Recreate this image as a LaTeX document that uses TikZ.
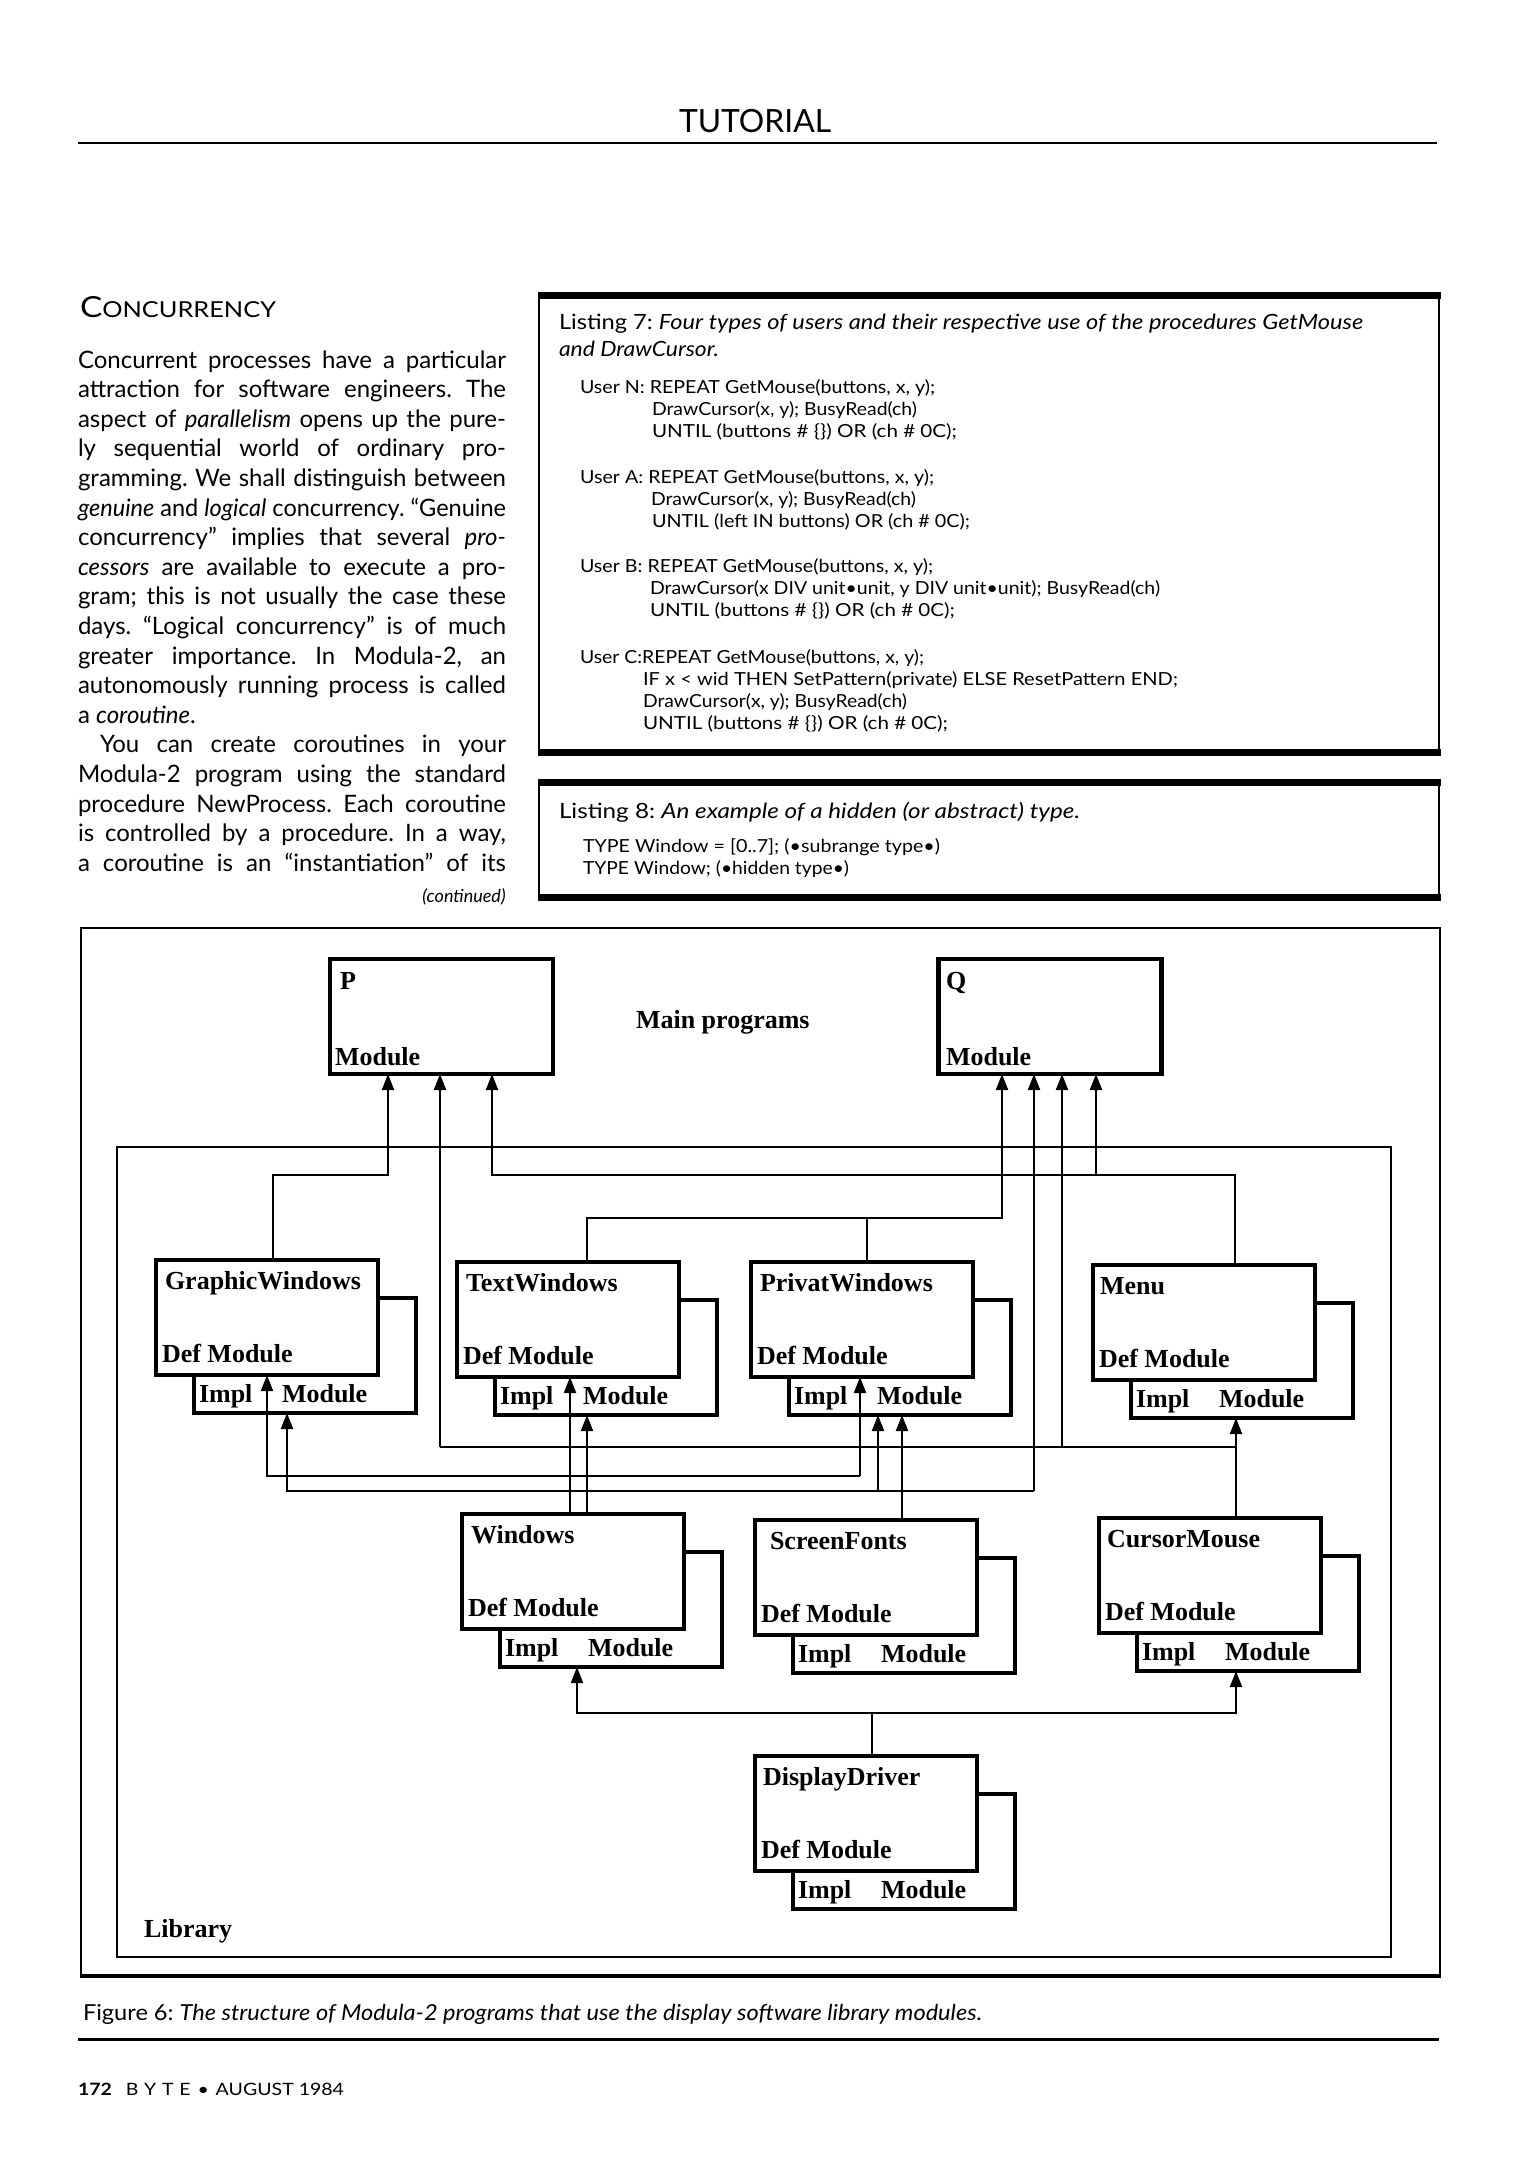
\documentclass[tikz,border=0pt]{standalone}
\usepackage{fontspec}
\usepackage{graphicx}
\setmainfont{Liberation Serif}
\newfontfamily\opt{Lato}
\usetikzlibrary{arrows.meta}
\frenchspacing
\newlength\jw
\newcommand\jline[2]{\settowidth\jw{#2}\ifdim\jw>#1\relax\resizebox{#1}{\height}{#2}\else\makebox[#1][s]{#2}\fi}
\newcommand\fitw[2]{\resizebox{#1}{\height}{#2}}
\tikzset{
  txt/.style={anchor=base west, inner sep=0pt, outer sep=0pt},
  body/.style={txt, font=\opt\frenchspacing\fontsize{12pt}{14pt}\selectfont},
  code/.style={txt, font=\opt\fontsize{9pt}{11pt}\selectfont},
  ltitle/.style={txt, font=\opt\fontsize{10.5pt}{12pt}\selectfont},
  lab/.style={txt, font=\bfseries\fontsize{13pt}{15pt}\selectfont},
  defbox/.style={draw, line width=2.2pt, fill=white, minimum width=111pt, minimum height=57.5pt, inner sep=0pt, outer sep=0pt},
  implbox/.style={draw, line width=2.2pt, fill=white, minimum width=111pt, minimum height=57.5pt, inner sep=0pt, outer sep=0pt},
  mainbox/.style={draw, line width=2.2pt, fill=white, minimum width=111.5pt, minimum height=57.5pt, inner sep=0pt, outer sep=0pt},
  conn/.style={line width=1pt},
  arr/.style={conn, -{Triangle[length=8pt,width=6pt]}},
  bar/.style={line width=3.5pt},
  side/.style={line width=0.7pt}
}
% name, x, y (top-left of Def box), title, title x offset
\newcommand\modbox[5]{%
  \node[implbox] (#1i) at (#2+149,#3+95.5) {};
  \node[defbox] (#1) at (#2+111,#3+57.5) {};
  \node[lab] (#1t) at (#2+#5,#3+29) {#4};
  \node[lab] (#1d) at (#2+6,#3+102) {Def Module};
  \node[lab] (#1l) at (#2+43,#3+142) {Impl};
  \node[lab] (#1m) at (#2+126,#3+142) {Module};
}
\newcommand\bl[3]{\node[body] (b#1) at (#2,{368+(#1-1)*29.6}) {#3};}
\begin{document}
\begin{tikzpicture}[x=0.5pt,y=-0.5pt]
\useasboundingbox (0,0) rectangle (1533,2160);
\fill[white] (0,0) rectangle (1533,2160);

% ---------- header ----------
\node[font=\opt\fontsize{16pt}{18pt}\selectfont, anchor=base, inner sep=0pt] (hdr) at (755,132) {\fitw{76pt}{TUTORIAL}};
\draw[line width=1.3pt] (78,143) -- (1437,143);

% ---------- body column ----------
\node[txt, font=\opt\fontsize{11pt}{13pt}\selectfont] (head) at (80,317) {\fitw{98pt}{{\fontsize{14.5pt}{16pt}\selectfont C}ONCURRENCY}};
\bl{1}{78}{\jline{214pt}{Concurrent processes have a particular}}
\bl{2}{78}{\jline{214pt}{attraction for software engineers. The}}
\bl{3}{78}{\jline{214pt}{aspect of \textit{parallelism} opens up the pure-}}
\bl{4}{78}{\jline{214pt}{ly sequential world of ordinary pro-}}
\bl{5}{78}{\jline{214pt}{gramming. We shall distinguish between}}
\bl{6}{78}{\jline{214pt}{\textit{genuine} and \textit{logical} concurrency. “Genuine}}
\bl{7}{78}{\jline{214pt}{concurrency” implies that several \textit{pro-}}}
\bl{8}{78}{\jline{214pt}{\textit{cessors} are available to execute a pro-}}
\bl{9}{78}{\jline{214pt}{gram; this is not usually the case these}}
\bl{10}{78}{\jline{214pt}{days. “Logical concurrency” is of much}}
\bl{11}{78}{\jline{214pt}{greater importance. In Modula-2, an}}
\bl{12}{78}{\jline{214pt}{autonomously running process is called}}
\bl{13}{78}{a \textit{coroutine}.}
\bl{14}{100}{\jline{203pt}{You can create coroutines in your}}
\bl{15}{78}{\jline{214pt}{Modula-2 program using the standard}}
\bl{16}{78}{\jline{214pt}{procedure NewProcess. Each coroutine}}
\bl{17}{78}{\jline{214pt}{is controlled by a procedure. In a way,}}
\bl{18}{78}{\jline{214pt}{a coroutine is an “instantiation” of its}}
\node[anchor=base east, inner sep=0pt, font=\opt\itshape\fontsize{9pt}{11pt}\selectfont] (cont) at (506,902) {(continued)};

% ---------- Listing 7 ----------
\draw[bar] (538,295) -- (1441,295);
\draw[bar] (538,752) -- (1441,752);
\draw[side] (539,295) -- (539,752);
\draw[side] (1439,295) -- (1439,752);
\node[ltitle] (l7a) at (559,329) {\fitw{402pt}{Listing 7: \textit{Four types of users and their respective use of the procedures GetMouse}}};
\node[ltitle] (l7b) at (559,356) {\fitw{80pt}{\textit{and DrawCursor.}}};
\node[code] (n1) at (580,393) {\fitw{177.5pt}{User N: REPEAT GetMouse(buttons, x, y);}};
\node[code] (n2) at (652,415) {\fitw{132.5pt}{DrawCursor(x, y); BusyRead(ch)}};
\node[code] (n3) at (652,437) {\fitw{152.5pt}{UNTIL (buttons \# \{\}) OR (ch \# 0C);}};
\node[code] (a1) at (580,483) {\fitw{177pt}{User A: REPEAT GetMouse(buttons, x, y);}};
\node[code] (a2) at (651,505) {\fitw{132.5pt}{DrawCursor(x, y); BusyRead(ch)}};
\node[code] (a3) at (652,527) {\fitw{159pt}{UNTIL (left IN buttons) OR (ch \# 0C);}};
\node[code] (u1) at (580,572) {\fitw{176.5pt}{User B: REPEAT GetMouse(buttons, x, y);}};
\node[code] (u2) at (650,594) {\fitw{255pt}{DrawCursor(x DIV unit•unit, y DIV unit•unit); BusyRead(ch)}};
\node[code] (u3) at (650,616) {\fitw{152.5pt}{UNTIL (buttons \# \{\}) OR (ch \# 0C);}};
\node[code] (c1) at (580,663) {\fitw{172pt}{User C:REPEAT GetMouse(buttons, x, y);}};
\node[code] (c2) at (643,685) {\fitw{267.5pt}{IF x < wid THEN SetPattern(private) ELSE ResetPattern END;}};
\node[code] (c3) at (643,707) {\fitw{132pt}{DrawCursor(x, y); BusyRead(ch)}};
\node[code] (c4) at (643,729) {\fitw{152.5pt}{UNTIL (buttons \# \{\}) OR (ch \# 0C);}};

% ---------- Listing 8 ----------
\draw[bar] (538,782) -- (1441,782);
\draw[bar] (538,897) -- (1441,897);
\draw[side] (539,782) -- (539,897);
\draw[side] (1439,782) -- (1439,897);
\node[ltitle] (l8) at (559,818) {\fitw{260.5pt}{Listing 8: \textit{An example of a hidden (or abstract) type.}}};
\node[code] (t1) at (583,852) {\fitw{178.5pt}{TYPE Window = [0..7]; (•subrange type•)}};
\node[code] (t2) at (583,874) {\fitw{133pt}{TYPE Window; (•hidden type•)}};

% ---------- Figure frame ----------
\draw[line width=1pt] (81,1976) -- (81,928) -- (1440,928) -- (1440,1976);
\draw[line width=2pt] (80,1976) -- (1441,1976);
\draw[line width=1.2pt] (117,1147) rectangle (1391,1957);
\node[lab] (lib) at (144,1937) {Library};
\node[lab] (mp) at (636,1028) {Main programs};

% main programs
\node[mainbox] (P) at (441.5,1016.5) {};
\node[lab] (Pt) at (340,989) {P};
\node[lab] (Pm) at (335,1065) {Module};
\node[mainbox] (Q) at (1050,1016.5) {};
\node[lab] (Qt) at (946,989) {Q};
\node[lab] (Qm) at (946,1065) {Module};

% library modules
\modbox{gw}{156}{1260}{GraphicWindows}{9}
\modbox{tw}{457}{1262}{TextWindows}{9}
\modbox{pw}{751}{1262}{PrivatWindows}{9}
\modbox{menu}{1093}{1265}{Menu}{7}
\modbox{win}{462}{1514}{Windows}{9}
\modbox{sf}{755}{1520}{ScreenFonts}{15}
\modbox{cm}{1099}{1518}{CursorMouse}{8}
\modbox{dd}{755}{1756}{DisplayDriver}{8}

% ---------- connectors ----------
% GraphicWindows -> P
\coordinate (j1) at (273,1175);
\coordinate (cP1) at (388,1175);
\draw[arr] (j1 |- gw.north) -- (j1) -- (cP1) -- (cP1 |- P.south);
% Menu -> P and Q
\coordinate (cM) at (1235,1175);
\coordinate (cP3) at (492,1175);
\coordinate (cQ4) at (1096,1175);
\draw[arr] (cM |- menu.north) -- (cM) -- (cP3) -- (cP3 |- P.south);
\draw[arr] (cQ4) -- (cQ4 |- Q.south);
% TextWindows, PrivatWindows -> Q
\coordinate (cT) at (587,1218);
\coordinate (cPW) at (867,1218);
\coordinate (cQ1) at (1002,1218);
\draw[arr] (cT |- tw.north) -- (cT) -- (cQ1) -- (cQ1 |- Q.south);
\draw[conn] (cPW |- pw.north) -- (cPW);
% CursorMouse bus
\coordinate (cC) at (1236,1447);
\coordinate (cP2) at (440,1447);
\coordinate (cQ3) at (1062,1447);
\draw[arr] (cC |- cm.north) -- (cC |- menui.south);
\draw[conn] (cC) -- (cP2);
\draw[arr] (cP2) -- (cP2 |- P.south);
\draw[arr] (cQ3) -- (cQ3 |- Q.south);
% bus at 1476
\coordinate (e1) at (267,1476);
\coordinate (e2) at (860,1476);
\draw[arr] (e2) -- (e1) -- (e1 |- gw.south);
\draw[arr] (e2) -- (e2 |- pw.south);
% bus at 1491
\coordinate (v1) at (287,1491);
\coordinate (v2) at (878,1491);
\coordinate (v3) at (1034,1491);
\draw[arr] (v3) -- (v1) -- (v1 |- gwi.south);
\draw[arr] (v2) -- (v2 |- pwi.south);
\draw[arr] (v3) -- (v3 |- Q.south);
% Windows -> TextWindows
\coordinate (w1) at (570,1500);
\coordinate (w2) at (587,1500);
\draw[arr] (w1 |- win.north) -- (w1 |- tw.south);
\draw[arr] (w2 |- win.north) -- (w2 |- twi.south);
% ScreenFonts -> PrivatWindows
\coordinate (s1) at (902,1500);
\draw[arr] (s1 |- sf.north) -- (s1 |- pwi.south);
% DisplayDriver -> Windows, CursorMouse
\coordinate (d0) at (872,1713);
\coordinate (d1) at (577,1713);
\coordinate (d2) at (1236,1713);
\draw[conn] (d0 |- dd.north) -- (d0);
\draw[arr] (d0) -- (d1) -- (d1 |- wini.south);
\draw[arr] (d0) -- (d2) -- (d2 |- cmi.south);

% ---------- caption and footer ----------
\node[txt, font=\opt\fontsize{11pt}{13pt}\selectfont] (cap) at (83,2020) {\fitw{449.5pt}{Figure 6: \textit{The structure of Modula-2 programs that use the display software library modules.}}};
\draw[line width=1.5pt] (78,2039) -- (1439,2039);
\node[txt, font=\opt\fontsize{8.5pt}{10pt}\selectfont] (foot) at (78,2095) {\fitw{133pt}{\textbf{172}\hspace{6pt}B\hspace{2.5pt}Y\hspace{2.5pt}T\hspace{2.5pt}E\hspace{3pt}•\hspace{3pt}AUGUST 1984}};
\end{tikzpicture}
\end{document}
